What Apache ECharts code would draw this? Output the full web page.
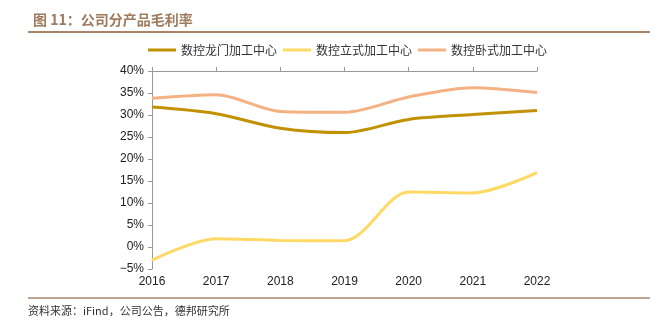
<!DOCTYPE html>
<html><head><meta charset="utf-8">
<script src="https://cdn.jsdelivr.net/npm/echarts@6/dist/echarts.min.js"></script>
<style>html,body{margin:0;padding:0;background:#fff}#c{width:658px;height:330px}</style>
</head><body><div id="c"></div>
<script>
const categories = ['2016','2017','2018','2019','2020','2021','2022'];
const longmen = [31.8, 30.3, 27.0, 26.0, 29.0, 30.1, 31.0];
const lishi = [-3.0, 1.9, 1.5, 1.4, 12.5, 12.3, 16.9];
const woshi = [33.8, 34.6, 30.8, 30.6, 34.1, 36.2, 35.1];
const seriesNames = ['数控龙门加工中心','数控立式加工中心','数控卧式加工中心'];
const yTicks = {min: -5, max: 40, interval: 5};

const chart = echarts.init(document.getElementById('c'));
const colors = ['#C09100','#FFD966','#F4B183'];
const mk = (name, data, i) => ({
  name, type: 'line', data, smooth: 0.3, symbol: 'none',
  lineStyle: {width: 3, color: colors[i]}, itemStyle: {color: colors[i]}
});
chart.setOption({
  animation: false,
  title: {text: '图 11：公司分产品毛利率', left: 28, top: 8,
    textStyle: {fontSize: 14, fontWeight: 'bold', color: '#9E7B5F', fontFamily: 'Noto Sans CJK SC'}},
  graphic: [
    {type: 'line', shape: {x1: 28, y1: 32, x2: 650, y2: 32}, style: {stroke: '#A98468', lineWidth: 2}},
    {type: 'line', shape: {x1: 28, y1: 298, x2: 650, y2: 298}, style: {stroke: '#A98468', lineWidth: 1.5}},
    {type: 'text', left: 28, top: 305, style: {text: '资料来源：iFind，公司公告，德邦研究所', fontSize: 11, fill: '#333', fontFamily: 'Noto Sans CJK SC'}}
  ],
  legend: {top: 39, left: 143, itemWidth: 28, itemHeight: 3, itemGap: 6,
    icon: 'rect',
    textStyle: {fontSize: 12, color: '#333', fontFamily: 'Noto Sans CJK SC'},
    data: seriesNames},
  grid: {left: 152, right: 121, top: 71, bottom: 61, containLabel: false},
  xAxis: [
    {type: 'category', data: categories, boundaryGap: false, position: 'bottom',
      axisLine: {show: false}, axisTick: {show: false},
      axisLabel: {fontSize: 12, color: '#222', margin: 7, fontFamily: 'Arial'}},
    {type: 'category', data: categories, boundaryGap: false,
      axisLine: {onZero: true, lineStyle: {color: '#999'}},
      axisTick: {show: true, length: 4, inside: false, lineStyle: {color: '#999'}},
      axisLabel: {show: false}}
  ],
  yAxis: {type: 'value', min: yTicks.min, max: yTicks.max, interval: yTicks.interval,
    axisLine: {show: true, lineStyle: {color: '#999'}},
    axisTick: {show: true, length: 4, lineStyle: {color: '#999'}},
    splitLine: {show: false},
    axisLabel: {formatter: v => (v < 0 ? '\u2212' + (-v) : v) + '%', fontSize: 12, color: '#222', margin: 8, fontFamily: 'Arial'}},
  series: [mk(seriesNames[0], longmen, 0), mk(seriesNames[1], lishi, 1), mk(seriesNames[2], woshi, 2)]
});
</script></body></html>
